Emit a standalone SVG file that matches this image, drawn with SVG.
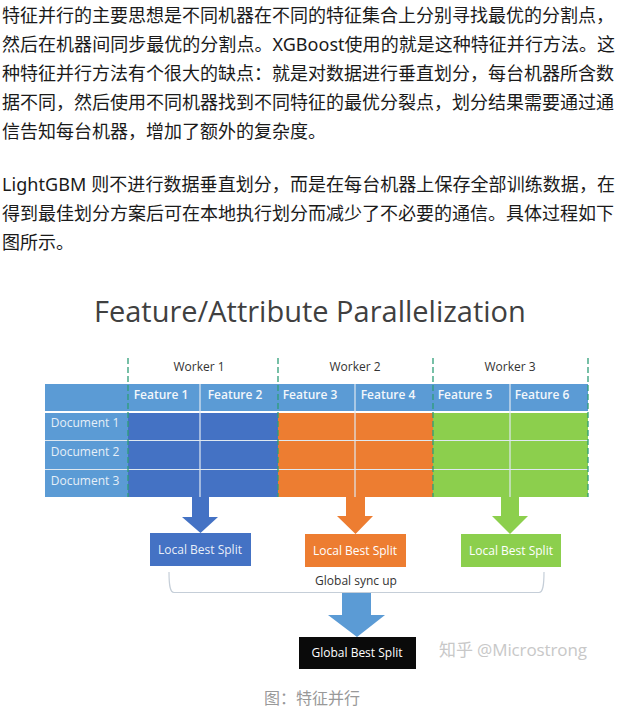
<svg xmlns="http://www.w3.org/2000/svg" width="630" height="712" viewBox="0 0 630 712">
<style>
.b{font:18px "Noto Sans","Noto Sans CJK SC",sans-serif;fill:#1a1a1a}
.t{font-family:"Open Sans","Noto Sans",sans-serif}
.w{fill:#fff;font-size:12px;text-anchor:middle}
.f{fill:#f3f7fb;font-size:12px;font-weight:600;text-anchor:middle}
.d{fill:#e6eff8;font-size:12px;text-anchor:middle}
.k{fill:#333;font-size:12px;text-anchor:middle}
.v{stroke:#dfe8f0;stroke-width:1.2}
.g{stroke:#2f9e78;stroke-width:1.3;stroke-dasharray:6 3;fill:none}
</style>
<g id="body-text">
<text class="b" x="2" y="22">特征并行的主要思想是不同机器在不同的特征集合上分别寻找最优的分割点，</text>
<text class="b" x="2" y="51" textLength="613">然后在机器间同步最优的分割点。XGBoost使用的就是这种特征并行方法。这</text>
<text class="b" x="2" y="80">种特征并行方法有个很大的缺点：就是对数据进行垂直划分，每台机器所含数</text>
<text class="b" x="2" y="109">据不同，然后使用不同机器找到不同特征的最优分裂点，划分结果需要通过通</text>
<text class="b" x="2" y="138">信告知每台机器，增加了额外的复杂度。</text>
<text class="b" x="2" y="191" textLength="613">LightGBM 则不进行数据垂直划分，而是在每台机器上保存全部训练数据，在</text>
<text class="b" x="2" y="220">得到最佳划分方案后可在本地执行划分而减少了不必要的通信。具体过程如下</text>
<text class="b" x="2" y="249">图所示。</text>
</g>
<text id="title" class="t" x="94" y="322" font-size="29" fill="#404040">Feature/Attribute Parallelization</text>
<g id="table">
<rect x="45" y="384" width="543" height="27" fill="#5b9bd5"/>
<rect x="45" y="413" width="83" height="84" fill="#5b9bd5"/>
<rect x="128" y="413" width="150" height="84" fill="#4472c4"/>
<rect x="278" y="413" width="155" height="84" fill="#ed7d31"/>
<rect x="433" y="413" width="155" height="84" fill="#8ccf4d"/>
<path class="v" d="M45 440.500H588M45 469.500H588M200 384V497M355 384V497M510 384V497"/>
<text class="t f" x="161" y="399">Feature 1</text>
<text class="t f" x="235" y="399">Feature 2</text>
<text class="t f" x="310" y="399">Feature 3</text>
<text class="t f" x="388" y="399">Feature 4</text>
<text class="t f" x="465" y="399">Feature 5</text>
<text class="t f" x="542" y="399">Feature 6</text>
<text class="t d" x="85" y="427">Document 1</text>
<text class="t d" x="85" y="456">Document 2</text>
<text class="t d" x="85" y="485">Document 3</text>
<text class="t k" x="199" y="371">Worker 1</text>
<text class="t k" x="355" y="371">Worker 2</text>
<text class="t k" x="510" y="371">Worker 3</text>
<path class="g" d="M128 358V497M278 358V497M433 358V497M588 358V497"/>
</g>
<g id="connectors">
<path d="M192 497H209V517H218L200.500 533L182 517H192Z" fill="#4472c4"/>
<path d="M346 497H365V516H373L355.500 534L337 516H346Z" fill="#ed7d31"/>
<path d="M501 497H519V516H528L510 534L492 516H501Z" fill="#8ccf4d"/>
<path d="M342 593H371V615H385L357 637L328 615H342Z" fill="#5b9bd5"/>
<path d="M169 572C169 585 170 592.500 174 592.500H539C543 592.500 544 585 544 572" fill="none" stroke="#c5ced8" stroke-width="1.2"/>
</g>
<g id="local-blue"><rect x="150" y="533" width="101" height="33" fill="#4472c4"/><text class="t w" x="200" y="554" fill-opacity=".9">Local Best Split</text></g>
<g id="local-orange"><rect x="305" y="534" width="101" height="33" fill="#ed7d31"/><text class="t w" x="355" y="555">Local Best Split</text></g>
<g id="local-green"><rect x="461" y="534" width="100" height="33" fill="#8ccf4d"/><text class="t w" x="511" y="555">Local Best Split</text></g>
<text id="sync" class="t k" x="356" y="585">Global sync up</text>
<g id="global-best"><rect x="299" y="637" width="117" height="32" fill="#0a0a0a"/><text class="t w" x="357" y="657">Global Best Split</text></g>
<text id="watermark" x="439" y="656" font-size="17" fill="#c8c8c8" font-family="Open Sans,Noto Sans CJK SC,sans-serif" textLength="148">知乎 @Microstrong</text>
<text id="caption" x="312" y="704" font-size="16" fill="#999" text-anchor="middle" font-family="Noto Sans CJK SC,sans-serif">图：特征并行</text>
</svg>
